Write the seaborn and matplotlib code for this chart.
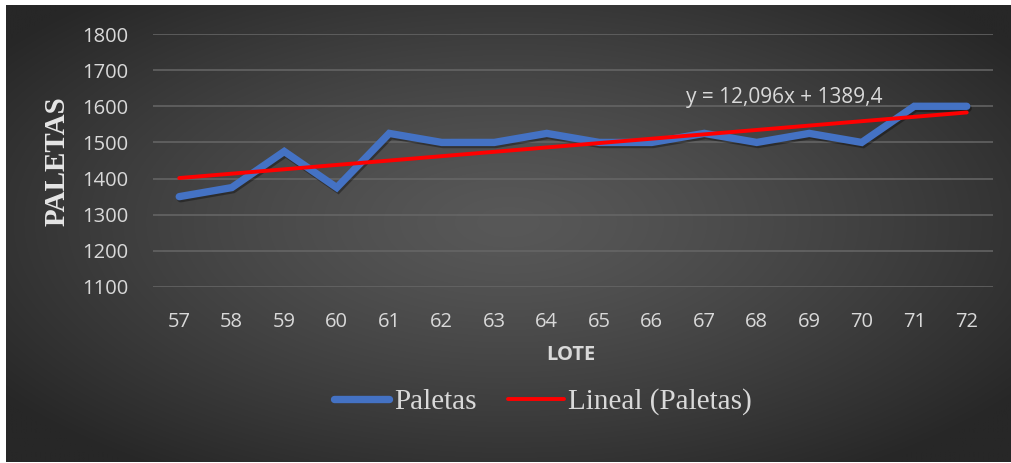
import numpy as np
import pandas as pd
import matplotlib
matplotlib.use("Agg")
import matplotlib.pyplot as plt
import matplotlib.patheffects as pe
from matplotlib.lines import Line2D
import seaborn as sns

# Lotes and pallet counts
lotes = [57, 58, 59, 60, 61, 62, 63, 64, 65, 66, 67, 68, 69, 70, 71, 72]
paletas = [1350, 1375, 1475, 1375, 1525, 1500, 1500, 1525,
           1500, 1500, 1525, 1500, 1525, 1500, 1600, 1600]
y_ticks = [1100, 1200, 1300, 1400, 1500, 1600, 1700, 1800]

df = pd.DataFrame({"pos": np.arange(len(lotes)), "lote": lotes, "paletas": paletas})

sns.set_theme(style="dark")
plt.rcParams["font.family"] = ["Open Sans", "DejaVu Sans"]

W, H = 1012, 463
fig = plt.figure(figsize=(W / 100, H / 100), dpi=100, facecolor="white")

# radial gradient backdrop inside a thin white frame
bg = fig.add_axes([6 / W, 1 / H, (W - 7) / W, (H - 6) / H])
gx, gy = np.meshgrid(np.linspace(-1, 1, 600), np.linspace(-1, 1, 300))
r = np.sqrt(((gx - 0.0) / 1.0) ** 2 + ((gy + 0.05) / 1.05) ** 2)
r = np.clip(r / 1.25, 0, 1)
c_in, c_out = 0x58 / 255, 0x27 / 255
shade = c_in + (c_out - c_in) * r ** 1.3
bg.imshow(np.dstack([shade, shade, shade]), aspect="auto", extent=[0, 1, 0, 1],
          interpolation="bilinear")
bg.set_axis_off()

ax = fig.add_axes([153 / W, 1 - 287 / H, 840 / W, 253 / H])
ax.set_facecolor("none")

sns.lineplot(data=df, x="pos", y="paletas", ax=ax, color="#4472C4", linewidth=5.3,
             solid_capstyle="round", solid_joinstyle="miter",
             path_effects=[pe.SimpleLineShadow(offset=(1, -1.5), alpha=0.35, shadow_color="black"),
                           pe.Normal()])
sns.regplot(data=df, x="pos", y="paletas", ax=ax, scatter=False, ci=None,
            truncate=True, line_kws={"color": "#FF0000", "linewidth": 2.8,
                                     "solid_capstyle": "round"})

slope, intercept = np.polyfit(np.arange(1, len(lotes) + 1), paletas, 1)
eq = f"y = {slope:.3f}x + {intercept:.1f}".replace(".", ",")
ax.text(11.52, 1594, eq, color="#d9d9d9", fontsize=15, ha="center", va="bottom")

ax.set_xlim(-0.5, len(lotes) - 0.5)
ax.set_ylim(1100, 1800)
ax.set_xticks(df["pos"])
ax.set_xticklabels([str(v) for v in lotes])
ax.set_yticks(y_ticks)
ax.tick_params(axis="both", length=0, colors="#d9d9d9", labelsize=14.5)
ax.tick_params(axis="x", pad=18)
ax.tick_params(axis="y", pad=18)
ax.grid(axis="y", color="#676767", linewidth=1.1)
ax.grid(axis="x", visible=False)
for s in ax.spines.values():
    s.set_visible(False)
ax.set_xlabel("")
ax.set_ylabel("")

fig.text(571 / W, 1 - 355 / H, "LOTE", color="#d9d9d9", fontsize=14.5,
         fontweight="bold", ha="center", va="center")
fig.text(57 / W, 1 - 161 / H, "PALETAS", color="#e6e6e6", fontsize=21,
         fontweight="bold", family=["Liberation Serif", "DejaVu Serif"],
         rotation=90, ha="center", va="center")

handles = [Line2D([], [], color="#4472C4", linewidth=5.3, solid_capstyle="round"),
           Line2D([], [], color="#FF0000", linewidth=2.8)]
leg = fig.legend(handles, ["Paletas", "Lineal (Paletas)"], loc="center",
                 bbox_to_anchor=(543 / W, 1 - 402 / H), ncol=2, frameon=False,
                 handlelength=1.9, handletextpad=0.15, columnspacing=1.1,
                 prop={"family": ["Liberation Serif", "DejaVu Serif"], "size": 21})
for t in leg.get_texts():
    t.set_color("#d9d9d9")

fig.savefig("out.png", dpi=100, facecolor="white")
